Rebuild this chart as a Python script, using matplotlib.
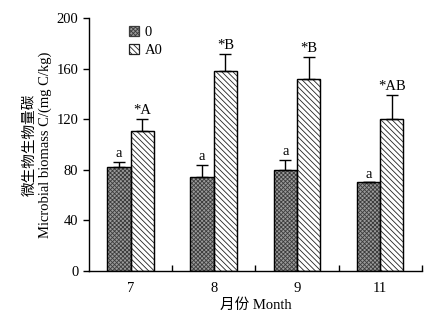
import numpy as np
import matplotlib
matplotlib.use("Agg")
import matplotlib.pyplot as plt

plt.rcParams['font.family'] = ['Liberation Serif', 'Noto Sans CJK SC']
plt.rcParams['hatch.linewidth'] = 0.6

# microbial biomass C by month
months = ["7", "8", "9", "11"]
ctrl = [82, 74, 80, 70]
ctrl_err = [4.5, 9.5, 8, 0]
ctrl_sig = ["a", "a", "a", "a"]
a0 = [111, 158.5, 151.5, 120.5]
a0_err = [9, 13.5, 17.5, 19]
a0_sig = ["*A", "*B", "*B", "*AB"]

fig = plt.figure(figsize=(4.38, 3.24), dpi=100)
ax = fig.add_axes([0.203, 0.164, 0.76, 0.78])

x = np.arange(len(months))
w = 0.28

ax.bar(x - w / 2, ctrl, w, color='#9a9a9a', edgecolor='#3c3c3c', linewidth=0.9,
       hatch='xxxxxxxx', label='0', zorder=2)
ax.bar(x + w / 2, a0, w, color='white', edgecolor='#222222', linewidth=0.9,
       hatch='\\' * 6, label='A0', zorder=2)
# redraw outlines in black over the hatching
ax.bar(x - w / 2, ctrl, w, fill=False, edgecolor='black', linewidth=0.9, zorder=3)
ax.bar(x + w / 2, a0, w, fill=False, edgecolor='black', linewidth=0.9, zorder=3)

ax.errorbar(x - w / 2, ctrl, yerr=[np.zeros(4), ctrl_err], fmt='none',
            ecolor='black', elinewidth=1, capsize=4, capthick=1, zorder=4)
ax.errorbar(x + w / 2, a0, yerr=[np.zeros(4), a0_err], fmt='none',
            ecolor='black', elinewidth=1, capsize=4, capthick=1, zorder=4)

for i in range(len(months)):
    ax.text(x[i] - w / 2, ctrl[i] + ctrl_err[i] + 1.5, ctrl_sig[i],
            ha='center', va='bottom', fontsize=10.5)
    ax.text(x[i] + w / 2, a0[i] + a0_err[i] + 1.5, a0_sig[i],
            ha='center', va='bottom', fontsize=10.5)

ax.set_xlim(-0.5, len(months) - 0.5)
ax.set_ylim(0, 200)
ax.set_yticks([0, 40, 80, 120, 160, 200])
ax.set_xticks(x)
ax.set_xticklabels(months)
ax.set_xticks(np.arange(len(months)) + 0.5, minor=True)
ax.tick_params(axis='x', which='major', length=0, labelsize=10.5, pad=8)
ax.tick_params(axis='x', which='minor', direction='in', length=4, width=1)
ax.tick_params(axis='y', direction='out', length=4, width=1, labelsize=10.5)

for s in ['top', 'right']:
    ax.spines[s].set_visible(False)
for s in ['left', 'bottom']:
    ax.spines[s].set_linewidth(1)

ax.set_xlabel("月份 Month", fontsize=10.5, labelpad=2)
ax.set_ylabel("微生物生物量碳\nMicrobial biomass C/(mg C/kg)", fontsize=10.5,
              labelpad=3)

ax.legend(loc='upper left', bbox_to_anchor=(0.08, 1.02), frameon=False,
          fontsize=10.5, handlelength=0.7, handleheight=0.7, handletextpad=0.4,
          labelspacing=0.3)

fig.savefig("out.png", dpi=100)
